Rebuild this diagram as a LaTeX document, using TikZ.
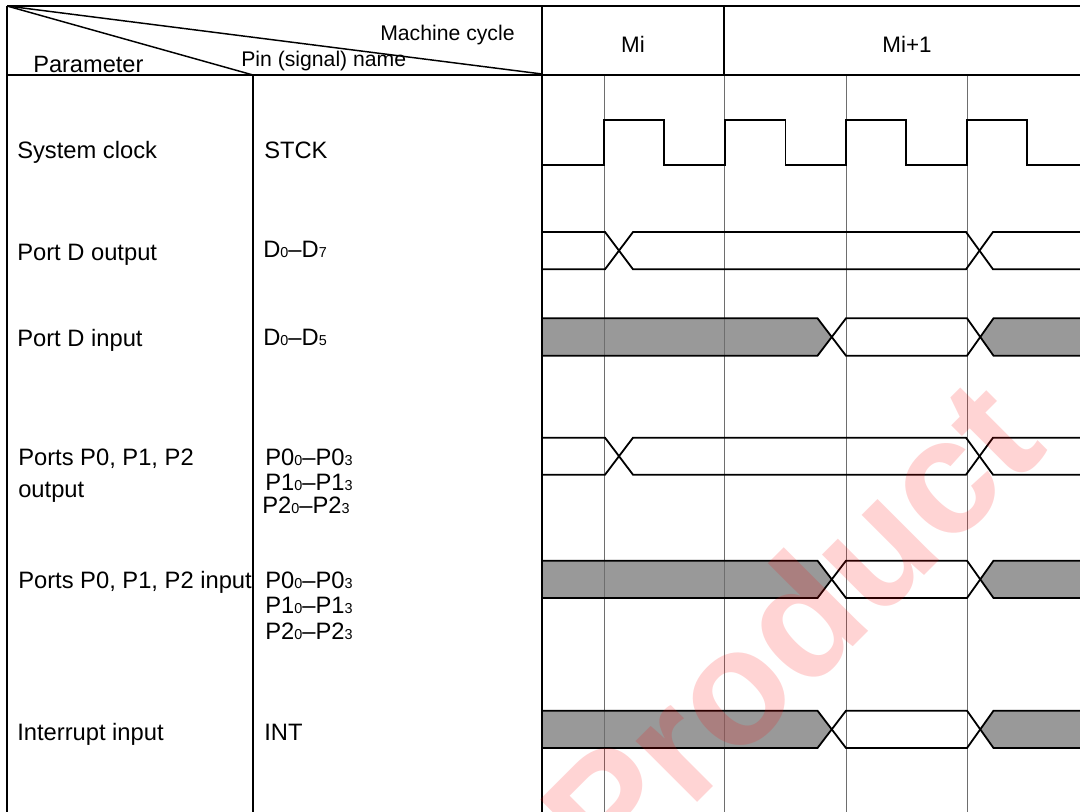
\documentclass[tikz,border=0pt]{standalone}
\usepackage{fontspec}
\setmainfont{Liberation Sans}
\usepackage{xcolor}
\usetikzlibrary{calc,positioning}
\definecolor{tmgray}{RGB}{153,153,153}
\definecolor{tmgrid}{RGB}{110,110,110}
\definecolor{tmmark}{RGB}{255,0,0}
\newcommand{\sm}[1]{{\fontsize{10.8pt}{10.8pt}\selectfont #1}}
\tikzset{
  frameline/.style={line width=1.5pt,draw=black},
  gridline/.style={line width=0.7pt,draw=tmgrid},
  wave/.style={line width=1.35pt,draw=black,line join=miter},
  thinwave/.style={line width=1.1pt,draw=black},
  param/.style={anchor=base west,inner sep=0pt,font=\fontsize{17.8pt}{20pt}\selectfont},
  pin/.style={anchor=base west,inner sep=0pt,font=\fontsize{17.8pt}{20pt}\selectfont},
  head/.style={anchor=base west,inner sep=0pt,font=\fontsize{15.9pt}{18pt}\selectfont},
  cycle/.style={anchor=base,inner sep=0pt,font=\fontsize{16.8pt}{20pt}\selectfont},
}
\begin{document}
\begin{tikzpicture}[x=0.75pt,y=-0.75pt]
  \useasboundingbox (0,0) rectangle (1080,812);
  \clip (0,0) rectangle (1080,812);

  % header corners
  \coordinate (tl) at (7,6);
  \coordinate (tr) at (1080,6);
  \coordinate (bl) at (7,812);
  \coordinate (hl) at (7,75);
  \coordinate (hr) at (1080,75);
  \coordinate (pinTop) at (253,75);
  \coordinate (pinBot) at (253,812);
  \coordinate (tabTop) at (542,6);
  \coordinate (tabBot) at (542,812);
  \coordinate (tabDiag) at (542,74);
  \coordinate (cycTop) at (723.5,6);
  \coordinate (cycBot) at (723.5,75);

  % clock grid
  \foreach \gx in {604.5,724,846,967}
    \draw[gridline] (\gx,75) -- (\gx,812);

  % grey data parts
  \foreach \ya/\yb in {318.3/355.7,560.7/598,710.7/748}{
    \fill[tmgray] (542,\ya) -- (817.5,\ya) -- (832,{(\ya+\yb)/2}) -- (817.5,\yb) -- (542,\yb) -- cycle;
    \fill[tmgray] (1080,\ya) -- (993.5,\ya) -- (980,{(\ya+\yb)/2}) -- (993.5,\yb) -- (1080,\yb) -- cycle;
    \foreach \gx in {604.5,724}
      \draw[gridline] (\gx,\ya) -- (\gx,\yb);
    \draw[wave] (542,\ya) -- (817.5,\ya) -- (846,\yb) -- (967,\yb) -- (993.5,\ya) -- (1080,\ya);
    \draw[wave] (542,\yb) -- (817.5,\yb) -- (846,\ya) -- (967,\ya) -- (993.5,\yb) -- (1080,\yb);
  }

  % clear data rows
  \foreach \ya/\yb in {232/269.3,437.7/474.7}{
    \draw[wave] (542,\ya) -- (605,\ya) -- (633,\yb) -- (966,\yb) -- (993,\ya) -- (1080,\ya);
    \draw[wave] (542,\yb) -- (605,\yb) -- (633,\ya) -- (966,\ya) -- (993,\yb) -- (1080,\yb);
  }

  % system clock
  \draw[wave] (542,165) -- (604,165) -- (604,120) -- (664,120) -- (664,165) -- (725,165) -- (725,120)
    -- (785.5,120) -- (785.5,165) -- (846,165) -- (846,120) -- (906,120) -- (906,165)
    -- (967,165) -- (967,120) -- (1027,120) -- (1027,165) -- (1080,165);

  % table
  \draw[frameline] (tl) -- (tr);
  \draw[frameline] (tl) -- (bl);
  \draw[frameline] (hl) -- (hr);
  \draw[frameline] (tabTop) -- (tabBot);
  \draw[frameline] (cycTop) -- (cycBot);
  \draw[frameline] (pinTop) -- (pinBot);
  \draw[thinwave] (tl) -- (pinTop);
  \draw[thinwave] (tl) -- (tabDiag);

  % header text
  \node[head] (hdCycle) at (380,41) {Machine cycle};
  \node[head,font=\fontsize{17.7pt}{20pt}\selectfont] (hdParam) at (33,73) {Parameter};
  \node[head] (hdPin) at (241,67) {Pin (signal) name};
  \node[cycle] (cycMi) at (633,53) {Mi};
  \node[cycle] (cycMj) at (907,53) {Mi+1};

  % parameter column
  \node[param] (pClock) at (17,159) {System clock};
  \node[param] (pOutD) at (17,261) {Port D output};
  \node[param] (pInD) at (17,347) {Port D input};
  \node[param] (pOutP) at (18,465) {Ports P0, P1, P2};
  \node[param] (pOutQ) at (18,497) {output};
  \node[param] (pInP) at (18,588) {Ports P0, P1, P2 input};
  \node[param] (pInt) at (17,740) {Interrupt input};

  % pin column
  \node[pin] (nClock) at (264,159) {STCK};
  \node[pin] (nOutD) at (263,258) {D\sm{0}--D\sm{7}};
  \node[pin] (nInD) at (263,346) {D\sm{0}--D\sm{5}};
  \node[pin] (nOutA) at (265,465) {P0\sm{0}--P0\sm{3}};
  \node[pin] (nOutB) at (265,490) {P1\sm{0}--P1\sm{3}};
  \node[pin] (nOutC) at (262,513) {P2\sm{0}--P2\sm{3}};
  \node[pin] (nInA) at (265,588) {P0\sm{0}--P0\sm{3}};
  \node[pin] (nInB) at (265,613) {P1\sm{0}--P1\sm{3}};
  \node[pin] (nInC) at (265,639) {P2\sm{0}--P2\sm{3}};
  \node[pin] (nInt) at (264,740) {INT};

  % stamp
  \node[anchor=base west,inner sep=0pt,rotate=45,text=tmmark,opacity=0.17,font=\fontsize{123pt}{123pt}\selectfont\bfseries] (stamp) at (612,888) {Product};
\end{tikzpicture}
\end{document}
